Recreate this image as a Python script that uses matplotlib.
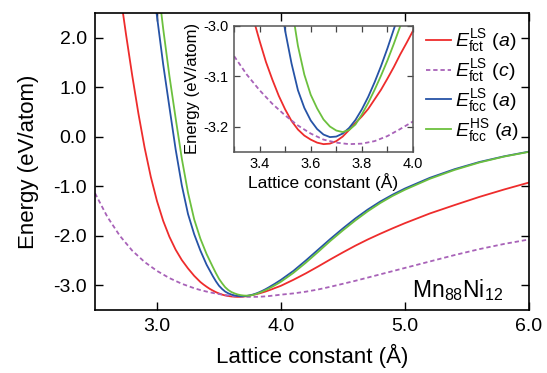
import matplotlib
matplotlib.use("Agg")
import matplotlib.pyplot as plt
from matplotlib.ticker import MultipleLocator

plt.rcParams['font.family'] = ['Liberation Sans', 'DejaVu Sans']
plt.rcParams['mathtext.fontset'] = 'custom'
plt.rcParams['mathtext.rm'] = 'Liberation Sans'
plt.rcParams['mathtext.it'] = 'Liberation Sans:italic'
plt.rcParams['axes.unicode_minus'] = False

# E^LS_fct, lattice a
a_red = [2.70, 2.75, 2.80, 2.85, 2.90, 2.95, 3.00, 3.05, 3.10, 3.15, 3.20, 3.25, 3.30, 3.35,
         3.375, 3.40, 3.425, 3.45, 3.475, 3.50, 3.525, 3.55, 3.575, 3.60, 3.625, 3.65, 3.675,
         3.70, 3.725, 3.75, 3.775, 3.80, 3.825, 3.85, 3.875, 3.90, 3.925, 3.95, 3.975, 4.00,
         4.10, 4.20, 4.30, 4.40, 4.50, 4.60, 4.70, 4.80, 4.90, 5.00, 5.20, 5.40, 5.60, 5.80, 6.00]
e_red = [2.95, 2.07, 1.24, 0.47, -0.22, -0.81, -1.30, -1.70, -2.02, -2.28, -2.49, -2.66, -2.81, -2.935,
         -2.985, -3.03, -3.072, -3.107, -3.139, -3.166, -3.189, -3.206, -3.218, -3.226, -3.232, -3.235, -3.234,
         -3.229, -3.220, -3.207, -3.193, -3.180, -3.165, -3.146, -3.127, -3.105, -3.082, -3.057, -3.034, -3.010,
         -2.89, -2.76, -2.62, -2.475, -2.335, -2.20, -2.075, -1.96, -1.85, -1.745, -1.55, -1.38, -1.215, -1.065, -0.925]

# E^LS_fct, lattice c
a_pur = [2.5, 2.6, 2.7, 2.8, 2.9, 3.0, 3.1, 3.2, 3.3, 3.35, 3.4, 3.45, 3.5, 3.55, 3.6, 3.65, 3.7,
         3.75, 3.8, 3.85, 3.9, 3.95, 4.0, 4.1, 4.2, 4.3, 4.4, 4.5, 4.6, 4.7, 4.8, 4.9, 5.0,
         5.2, 5.4, 5.6, 5.8, 6.0]
e_pur = [-1.14, -1.62, -2.00, -2.30, -2.53, -2.71, -2.855, -2.97, -3.06, -3.097, -3.128, -3.155, -3.178,
         -3.198, -3.214, -3.226, -3.232, -3.235, -3.234, -3.229, -3.219, -3.205, -3.19, -3.165, -3.13,
         -3.085, -3.03, -2.97, -2.91, -2.845, -2.78, -2.715, -2.65, -2.52, -2.39, -2.27, -2.165, -2.075]

# E^LS_fcc
a_blu = [2.99, 3.00, 3.05, 3.10, 3.15, 3.20, 3.25, 3.30, 3.35, 3.40, 3.45, 3.475, 3.50, 3.525, 3.55,
         3.575, 3.60, 3.625, 3.65, 3.675, 3.70, 3.725, 3.75, 3.775, 3.80, 3.825, 3.85, 3.875, 3.90,
         3.925, 3.95, 3.975, 4.00, 4.10, 4.20, 4.30, 4.40, 4.50, 4.60, 4.70, 4.80, 4.90, 5.00,
         5.20, 5.40, 5.60, 5.80, 6.00]
e_blu = [2.62, 2.43, 1.46, 0.60, -0.25, -0.98, -1.56, -1.97, -2.30, -2.585, -2.815, -2.92, -3.01, -3.075,
         -3.128, -3.163, -3.188, -3.205, -3.216, -3.221, -3.220, -3.214, -3.203, -3.187, -3.166, -3.141,
         -3.112, -3.080, -3.045, -3.007, -2.97, -2.93, -2.89, -2.71, -2.50, -2.28, -2.06, -1.85, -1.65,
         -1.47, -1.31, -1.17, -1.045, -0.83, -0.655, -0.51, -0.395, -0.30]

# E^HS_fcc
a_grn = [3.03, 3.05, 3.10, 3.15, 3.20, 3.25, 3.30, 3.35, 3.40, 3.45, 3.475, 3.50, 3.525, 3.55, 3.575,
         3.60, 3.625, 3.65, 3.675, 3.70, 3.725, 3.75, 3.775, 3.80, 3.825, 3.85, 3.875, 3.90, 3.925,
         3.95, 3.975, 4.00, 4.10, 4.20, 4.30, 4.40, 4.50, 4.60, 4.70, 4.80, 4.90, 5.00, 5.20, 5.40,
         5.60, 5.80, 6.00]
e_grn = [2.60, 2.18, 1.23, 0.38, -0.44, -1.13, -1.67, -2.06, -2.37, -2.63, -2.755, -2.87, -2.96, -3.04,
         -3.097, -3.137, -3.164, -3.186, -3.200, -3.208, -3.211, -3.207, -3.196, -3.176, -3.153, -3.127,
         -3.099, -3.069, -3.036, -3.001, -2.965, -2.928, -2.75, -2.545, -2.325, -2.10, -1.89, -1.69,
         -1.505, -1.34, -1.195, -1.07, -0.85, -0.67, -0.52, -0.40, -0.305]

labels = [r'$E^{\rm LS}_{\rm fct}$ ($a$)', r'$E^{\rm LS}_{\rm fct}$ ($c$)',
          r'$E^{\rm LS}_{\rm fcc}$ ($a$)', r'$E^{\rm HS}_{\rm fcc}$ ($a$)']
colors = ['#ee2c2c', '#a862b8', '#2653a6', '#6cc03e']

main_xticks = [3.0, 4.0, 5.0, 6.0]
main_yticks = [-3.0, -2.0, -1.0, 0.0, 1.0, 2.0]
inset_xticks = [3.4, 3.6, 3.8, 4.0]
inset_yticks = [-3.2, -3.1, -3.0]

dash = (0, (2.4, 1.6))

fig = plt.figure(figsize=(5.47, 3.73), dpi=100)
ax = fig.add_axes([95/547, 63/373, 434/547, 297/373])

series = [(a_red, e_red), (a_pur, e_pur), (a_blu, e_blu), (a_grn, e_grn)]
for i, (x, y) in enumerate(series):
    ls = dash if i == 1 else '-'
    ax.plot(x, y, c=colors[i], ls=ls, lw=1.3, label=labels[i])

ax.set_xlim(2.5, 6.0)
ax.set_ylim(-3.5, 2.5)
ax.set_xticks(main_xticks)
ax.set_yticks(main_yticks)
ax.set_xticklabels(['%.1f' % t for t in main_xticks])
ax.set_yticklabels(['%.1f' % t for t in main_yticks])
ax.tick_params(direction='in', length=6, width=1.0, top=True, right=True, labelsize=14, pad=6)
for s in ax.spines.values():
    s.set_linewidth(1.2)
ax.set_xlabel('Lattice constant (Å)', fontsize=16, labelpad=6)
ax.set_ylabel('Energy (eV/atom)', fontsize=16, labelpad=10)
ax.text(0.94, 0.044, r'Mn$_{88}$Ni$_{12}$', transform=ax.transAxes, ha='right', va='baseline', fontsize=16.5)

ax.legend(loc='upper left', bbox_to_anchor=(426/547, 1 - 27.5/373), bbox_transform=fig.transFigure,
          frameon=False, fontsize=14, handlelength=1.3, handletextpad=0.17, labelspacing=0.15,
          borderpad=0, borderaxespad=0)

# inset
ins = fig.add_axes([234/547, 221.3/373, 179/547, 126/373])
for i, (x, y) in enumerate(series):
    ls = dash if i == 1 else '-'
    ins.plot(x, y, c=colors[i], ls=ls, lw=1.3)
ins.set_xlim(3.3, 4.0)
ins.set_ylim(-3.25, -3.0)
ins.set_xticks(inset_xticks)
ins.set_xticklabels(['%.1f' % t for t in inset_xticks])
ins.set_yticks(inset_yticks)
ins.set_yticklabels(['%.1f' % t for t in inset_yticks])
ins.xaxis.set_minor_locator(MultipleLocator(0.1))
ins.tick_params(which='both', direction='in', length=4, width=0.9, top=True, right=True,
                labelsize=10.5, pad=4, color='#444444')
for s in ins.spines.values():
    s.set_linewidth(1.1)
    s.set_color('#555555')
ins.set_xlabel('Lattice constant (Å)', fontsize=12.5, labelpad=1)
ins.set_ylabel('Energy (eV/atom)', fontsize=12, labelpad=2)

fig.savefig('out.png', dpi=100)
